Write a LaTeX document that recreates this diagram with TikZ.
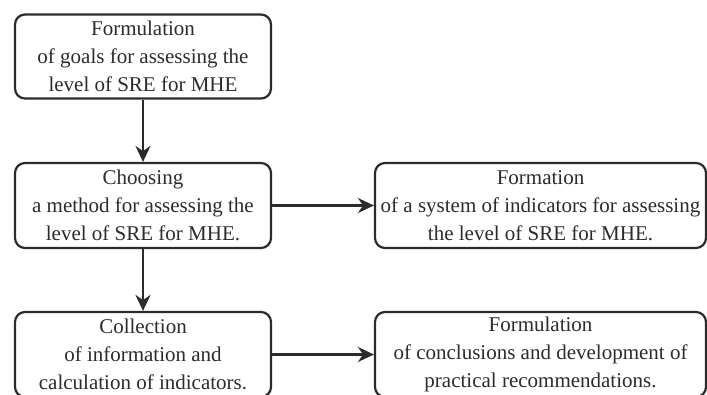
\documentclass[tikz,border=0pt]{standalone}
\usepackage{fontspec}
\setmainfont{Liberation Serif}
\newfontfamily\boxfont{Liberation Serif}
\usetikzlibrary{arrows.meta}
\definecolor{ink}{HTML}{2B2B2B}
\begin{document}
\begin{tikzpicture}[x=1pt,y=-1pt,
  stepbox/.style={draw=ink, line width=2.2pt, rounded corners=10pt, align=center,
    inner sep=0pt, text=ink, font=\boxfont\fontsize{21}{28}\selectfont},
  leftbox/.style={stepbox, minimum width=256pt, minimum height=84pt},
  rightbox/.style={stepbox, minimum width=331pt, minimum height=85pt},
  conn/.style={draw=ink, line width=2.2pt, -{Stealth[length=16pt,width=15pt]}}]
\useasboundingbox (0,0) rectangle (707,394);
\node[leftbox] (goals) at (143,56.5) {Formulation\\of goals for assessing the\\level of SRE for MHE};
\node[leftbox, minimum height=85pt] (method) at (143,205.5) {Choosing\\a method for assessing the\\level of SRE for MHE.};
\node[rightbox] (system) at (540.5,205.5) {Formation\\of a system of indicators for assessing\\the level of SRE for MHE.};
\node[leftbox, minimum height=85pt] (collect) at (143,354.5) {Collection\\of information and\\calculation of indicators.};
\node[rightbox] (concl) at (540.5,354.5) {Formulation\\of conclusions and development of\\practical recommendations.};
\draw[conn] (goals) -- (method);
\draw[conn] (method) -- (system);
\draw[conn] (method) -- (collect);
\draw[conn] (collect) -- (concl);
\end{tikzpicture}
\end{document}
